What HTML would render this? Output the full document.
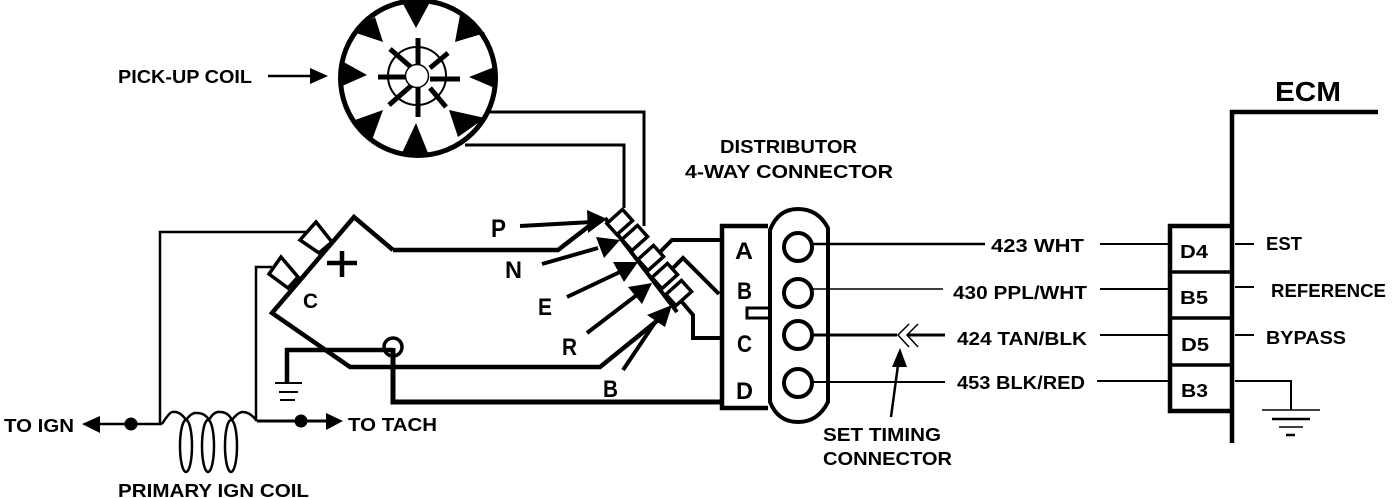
<!DOCTYPE html>
<html><head><meta charset="utf-8"><style>
html,body{margin:0;padding:0;background:#fff}
svg{display:block}
text{font-family:"Liberation Sans",sans-serif;font-weight:bold;fill:#000}
</style></head><body>
<svg width="1392" height="498" viewBox="0 0 1392 498" xmlns="http://www.w3.org/2000/svg">
<rect width="1392" height="498" fill="#fff"/>
<g fill="none" stroke="#000" stroke-linejoin="miter">
<!-- pick-up coil -->
<circle cx="418" cy="78" r="77.5" stroke-width="5" fill="#fff"/>
<g fill="#000" stroke="none">
<polygon points="402,2 430,2 416,28"/>
<polygon points="460,15 485,33 455,42"/>
<polygon points="497,66 497,89 469,77"/>
<polygon points="449,110 485,118 458,137"/>
<polygon points="416,123 402,153 428,153"/>
<polygon points="383,110 355,120 372,140"/>
<polygon points="340,60 340,87 367,75"/>
<polygon points="383,42 375,17 353,32"/>
</g>
<circle cx="417" cy="76" r="29" stroke-width="2"/>
<g stroke-width="5">
<path d="M418,38V66M418,88V117M378,77H406M430,79H460"/>
<path d="M390,49L412,68M448,53L430,68M412,85L389,105M430,88L446,107"/>
</g>
<circle cx="417" cy="76" r="11.5" fill="#fff" stroke-width="1.5"/>
<!-- pick-up wires -->
<path d="M490,112H644V226M465,145H624V208" stroke-width="3"/>
<!-- module C -->
<path d="M393,250L354,217L272,313L350,367H600L668,312" stroke-width="4.5"/>
<path d="M393,250H558L593,223" stroke-width="4.5"/>
<polygon points="316,222 332,242 319,253 300,240" stroke-width="3.5" fill="#fff"/>
<polygon points="281,257 298,277 288,288 269,274" stroke-width="3.5" fill="#fff"/>
<path d="M306,232H160V424" stroke-width="2.5"/>
<path d="M272,267H256V421" stroke-width="2.5"/>
<path d="M327,263H357M342,251V277" stroke-width="4.5"/>
<path d="M287,383V350H393" stroke-width="4.5"/>
<circle cx="393" cy="347" r="9" stroke-width="3.5"/>
<path d="M393,348V402H722" stroke-width="5"/>
<path d="M275,383H302" stroke-width="2"/><path d="M279,392H298M280,400H295" stroke-width="2"/>
<!-- terminal strip -->
<path d="M605,218L677,312" stroke-width="4"/>
<g stroke-width="3.5" fill="#fff">
<rect x="609" y="215" width="21" height="15" transform="rotate(-42 619 222)"/>
<rect x="624" y="231" width="21" height="15" transform="rotate(-42 634 238)"/>
<rect x="640" y="251" width="21" height="15" transform="rotate(-42 650 258)"/>
<rect x="654" y="269" width="21" height="15" transform="rotate(-42 664 276)"/>
<rect x="668" y="286" width="21" height="15" transform="rotate(-42 678 293)"/>
</g>
<path d="M722,240H672L660,252M719,294L683,258L673,268M722,338H693V315L682,302" stroke-width="4"/>
<!-- pointer arrows -->
<g stroke-width="4">
<path d="M520,226L592,222M542,264L598,248M567,297L622,271M587,333L642,291M623,370L658,318"/>
</g>
<g fill="#000" stroke="none">
<polygon points="587,210 607,219 588,233"/>
<polygon points="596,237 620,240 604,258"/>
<polygon points="613,262 638,262 624,282"/>
<polygon points="628,287 652,283 642,304"/>
<polygon points="647,315 672,305 665,327"/>
</g>
<!-- connector body -->
<path d="M768,226H722V408H768" stroke-width="4.5"/>
<path d="M770,230Q778,209 798,209Q818,209 828,228V402Q818,422 798,422Q778,422 770,402Z" stroke-width="4" fill="#fff"/>
<path d="M770,308H747V318H770" stroke-width="3"/>
<g stroke-width="4">
<circle cx="798" cy="247" r="14"/><circle cx="798" cy="293" r="14"/>
<circle cx="798" cy="335" r="14"/><circle cx="798" cy="383" r="14"/>
</g>
<path d="M813,244H985" stroke-width="2.5"/>
<path d="M813,289H943" stroke-width="1.5"/>
<path d="M813,335H897M907,335H945" stroke-width="3"/>
<path d="M813,382H945" stroke-width="2"/>
<path d="M909,324L898,335L909,347M918,324L907,335L918,347" stroke-width="1.5"/>
<path d="M891,417L898,365" stroke-width="2.5"/>
<polygon points="900,348 892,367 907,367" fill="#000" stroke="none"/>
<!-- leads to ECM -->
<path d="M1100,244H1168" stroke-width="2"/><path d="M1100,289H1170" stroke-width="2"/>
<path d="M1100,335H1170" stroke-width="2"/><path d="M1097,381H1170" stroke-width="2"/>
<!-- ECM -->
<path d="M1378,112H1232V443" stroke-width="4.5"/>
<path d="M1232,226H1170V411H1232" stroke-width="4.5"/>
<path d="M1170,272H1232M1170,318H1232M1170,365H1232" stroke-width="3.5"/>
<path d="M1235,244H1254M1235,287H1254M1235,335H1254" stroke-width="2"/>
<path d="M1235,381H1291V410" stroke-width="2"/>
<path d="M1262,410H1320M1279,427H1303" stroke-width="1.5"/>
<path d="M1272,419H1310M1286,435H1295" stroke-width="2.5"/>
<!-- coil -->
<path d="M100,424H162" stroke-width="2.5"/>
<path d="M257,421H326" stroke-width="3"/>
<path d="M162,424Q170,411 173,412Q180,411 186,420M186,420Q192,412 197,413Q205,413 209,420M209,420Q214,411 220,412Q228,412 232,420M232,420Q238,412 243,412Q250,412 257,421" stroke-width="2.5"/>
<ellipse cx="186" cy="446" rx="6" ry="26" stroke-width="2.5"/>
<ellipse cx="208" cy="446" rx="6" ry="26" stroke-width="2.5"/>
<ellipse cx="231" cy="446" rx="6" ry="26" stroke-width="2.5"/>
<path d="M268,76H312" stroke-width="2.5"/>
</g>
<g fill="#000">
<polygon points="82,424 100,416 100,433"/>
<circle cx="131" cy="424" r="6.5"/>
<circle cx="301" cy="421" r="6.5"/>
<polygon points="343,421 326,413 326,430"/>
<polygon points="328,76 310,68 310,84"/>
</g>
<!-- labels -->
<text x="118" y="83" font-size="18" textLength="134" lengthAdjust="spacingAndGlyphs">PICK-UP COIL</text>
<text x="720" y="153" font-size="18" textLength="137" lengthAdjust="spacingAndGlyphs">DISTRIBUTOR</text>
<text x="685" y="178" font-size="18" textLength="208" lengthAdjust="spacingAndGlyphs">4-WAY CONNECTOR</text>
<text x="491" y="237" font-size="25" textLength="15" lengthAdjust="spacingAndGlyphs" font-weight="normal">P</text>
<text x="505" y="278" font-size="24" textLength="17" lengthAdjust="spacingAndGlyphs">N</text>
<text x="538" y="315" font-size="24" textLength="14" lengthAdjust="spacingAndGlyphs">E</text>
<text x="562" y="355" font-size="24" textLength="15" lengthAdjust="spacingAndGlyphs">R</text>
<text x="603" y="397" font-size="24" textLength="15" lengthAdjust="spacingAndGlyphs">B</text>
<text x="303" y="308" font-size="21" textLength="15" lengthAdjust="spacingAndGlyphs">C</text>
<text x="735" y="259" font-size="24" textLength="18" lengthAdjust="spacingAndGlyphs">A</text>
<text x="737" y="299" font-size="24" textLength="15" lengthAdjust="spacingAndGlyphs">B</text>
<text x="737" y="352" font-size="24" textLength="15" lengthAdjust="spacingAndGlyphs">C</text>
<text x="736" y="399" font-size="24" textLength="17" lengthAdjust="spacingAndGlyphs">D</text>
<text x="991" y="252" font-size="18" textLength="93" lengthAdjust="spacingAndGlyphs">423 WHT</text>
<text x="953" y="299" font-size="18" textLength="134" lengthAdjust="spacingAndGlyphs">430 PPL/WHT</text>
<text x="957" y="345" font-size="18" textLength="130" lengthAdjust="spacingAndGlyphs">424 TAN/BLK</text>
<text x="957" y="389" font-size="18" textLength="128" lengthAdjust="spacingAndGlyphs">453 BLK/RED</text>
<text x="823" y="441" font-size="18" textLength="118" lengthAdjust="spacingAndGlyphs">SET TIMING</text>
<text x="823" y="465" font-size="18" textLength="129" lengthAdjust="spacingAndGlyphs">CONNECTOR</text>
<text x="1275" y="101" font-size="28" textLength="66" lengthAdjust="spacingAndGlyphs">ECM</text>
<text x="1180" y="258" font-size="18" textLength="28" lengthAdjust="spacingAndGlyphs">D4</text>
<text x="1180" y="304" font-size="18" textLength="28" lengthAdjust="spacingAndGlyphs">B5</text>
<text x="1181" y="351" font-size="18" textLength="28" lengthAdjust="spacingAndGlyphs">D5</text>
<text x="1181" y="397" font-size="18" textLength="27" lengthAdjust="spacingAndGlyphs">B3</text>
<text x="1266" y="250" font-size="18" textLength="36" lengthAdjust="spacingAndGlyphs">EST</text>
<text x="1271" y="297" font-size="18" textLength="115" lengthAdjust="spacingAndGlyphs">REFERENCE</text>
<text x="1266" y="344" font-size="18" textLength="80" lengthAdjust="spacingAndGlyphs">BYPASS</text>
<text x="4" y="432" font-size="18" textLength="70" lengthAdjust="spacingAndGlyphs">TO IGN</text>
<text x="348" y="431" font-size="18" textLength="89" lengthAdjust="spacingAndGlyphs">TO TACH</text>
<text x="118" y="497" font-size="18" textLength="191" lengthAdjust="spacingAndGlyphs">PRIMARY IGN COIL</text>
</svg>
</body></html>
